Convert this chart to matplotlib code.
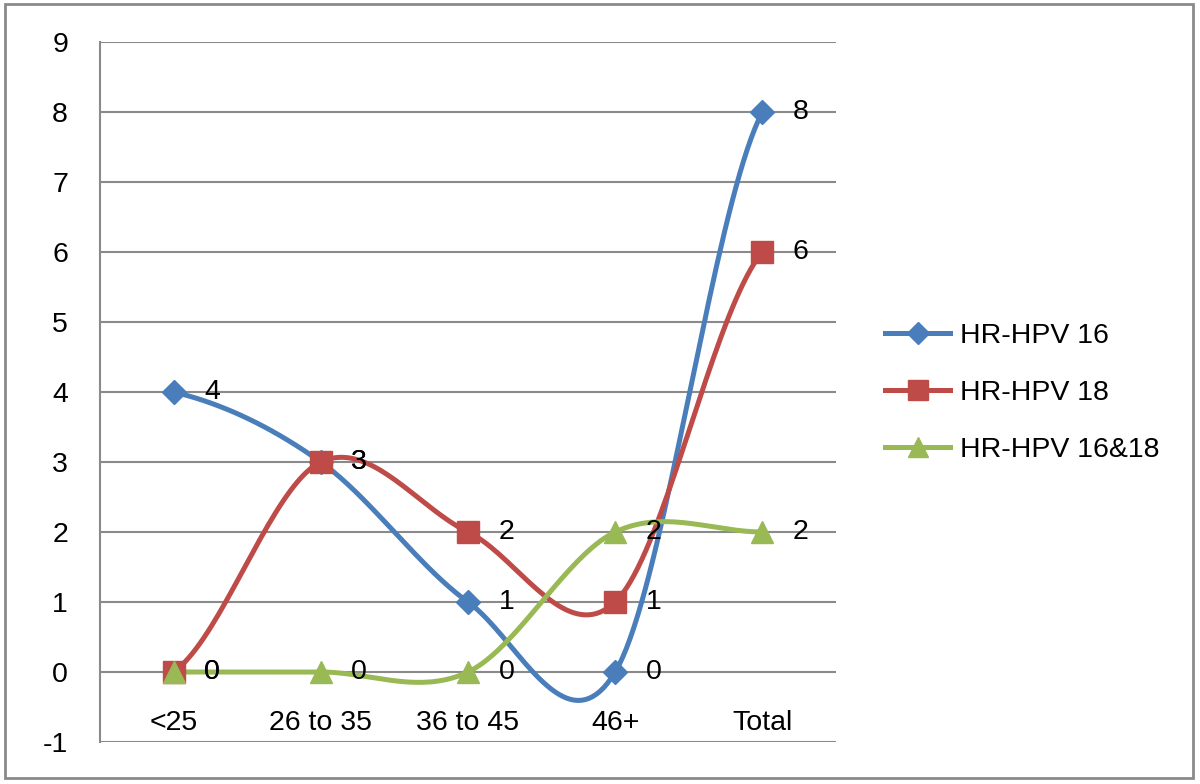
import matplotlib
matplotlib.use("Agg")
import matplotlib.pyplot as plt
import numpy as np
from matplotlib.lines import Line2D
from matplotlib.patches import Rectangle

plt.rcParams["font.family"] = ["Liberation Sans", "DejaVu Sans"]
plt.rcParams["axes.unicode_minus"] = False

categories = ["<25", "26 to 35", "36 to 45", "46+", "Total"]
hpv16 = [4, 3, 1, 0, 8]
hpv18 = [0, 3, 2, 1, 6]
hpv16_18 = [0, 0, 0, 2, 2]

series = [
    ("HR-HPV 16", hpv16, "#4a7ebb", "D", 12),
    ("HR-HPV 18", hpv18, "#be4b48", "s", 16),
    ("HR-HPV 16&18", hpv16_18, "#98b954", "^", 16),
]
FS = 20.5


def smooth(y, steps=40):
    # Catmull-Rom style smoothing, similar to Excel's smoothed lines
    y = np.asarray(y, dtype=float)
    n = len(y)
    xs, ys = [], []
    for i in range(n - 1):
        p0 = y[max(i - 1, 0)]
        p1, p2 = y[i], y[i + 1]
        p3 = y[min(i + 2, n - 1)]
        m1 = (p2 - p0) / 2
        m2 = (p3 - p1) / 2
        t = np.linspace(0, 1, steps)
        h00 = 2 * t**3 - 3 * t**2 + 1
        h10 = t**3 - 2 * t**2 + t
        h01 = -2 * t**3 + 3 * t**2
        h11 = t**3 - t**2
        xs.append(i + t)
        ys.append(h00 * p1 + h10 * m1 + h01 * p2 + h11 * m2)
    return np.concatenate(xs), np.concatenate(ys)


fig = plt.figure(figsize=(12, 7.84), dpi=100)
ax = fig.add_axes([100 / 1200, 1 - 742 / 784, 736 / 1200, 700 / 784])

x = np.arange(len(categories))
for name, vals, color, marker, ms in series:
    sx, sy = smooth(vals)
    ax.plot(sx, sy, color=color, lw=3.6, zorder=3, solid_capstyle="round")
    ax.plot(x, vals, linestyle="none", marker=marker, ms=ms, color=color, zorder=4)
    for xi, v in zip(x, vals):
        ax.annotate(str(v), (xi, v), xytext=(22, 0), textcoords="offset points",
                    ha="left", va="center", fontsize=FS, color="black", zorder=5)

ax.set_xlim(-0.5, len(categories) - 0.5)
ax.set_ylim(-1, 9)
ax.set_yticks(range(-1, 10))
ax.set_xticks([])
ax.grid(axis="y", color="#8a8a8a", lw=1.5)
ax.set_axisbelow(True)
ax.tick_params(axis="y", length=0, pad=23, labelsize=FS)
for side in ["top", "right", "bottom"]:
    ax.spines[side].set_visible(False)
ax.spines["left"].set_color("#8a8a8a")
ax.spines["left"].set_linewidth(1.5)

for xi, cat in zip(x, categories):
    ax.text(xi, -0.73, cat, ha="center", va="center", fontsize=FS)

handles = [Line2D([0], [0], color=c, lw=3.6, marker=m, ms=ms * 0.9) for _, _, c, m, ms in series]
fig.legend(handles, [s[0] for s in series], loc="center left",
           bbox_to_anchor=(885 / 1200, 1 - 393 / 784), bbox_transform=fig.transFigure,
           frameon=False, fontsize=FS, handlelength=2.3, handletextpad=0.35,
           labelspacing=1.1, borderpad=0, borderaxespad=0)

fig.patches.append(Rectangle((5 / 1200, 1 - 778 / 784), 1188 / 1200, 774 / 784,
                             transform=fig.transFigure, fill=False,
                             edgecolor="#8a8a8a", lw=2))

fig.savefig("out.png", dpi=100)
